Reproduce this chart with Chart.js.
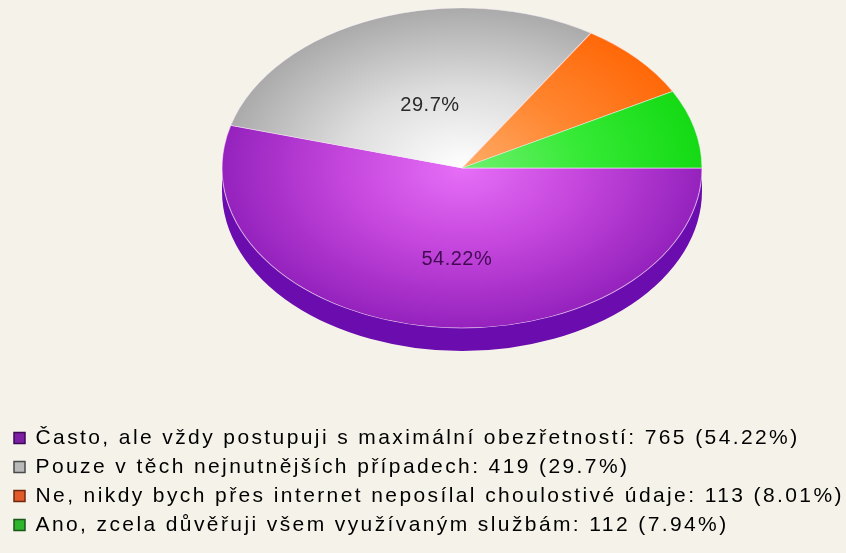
<!DOCTYPE html>
<html>
<head>
<meta charset="utf-8">
<script src="https://cdn.jsdelivr.net/npm/chart.js@4"></script>
<style>
  html, body { margin: 0; padding: 0; background: #f5f3e9; }
  #wrap { width: 846px; height: 553px; }
</style>
</head>
<body>
<div id="wrap"><canvas id="anketa" width="846" height="553"></canvas></div>
<script>
const labels = [
  'Často, ale vždy postupuji s maximální obezřetností',
  'Pouze v těch nejnutnějších případech',
  'Ne, nikdy bych přes internet neposílal choulostivé údaje',
  'Ano, zcela důvěřuji všem využívaným službám'
];
const counts = [765, 419, 113, 112];
const percents = ['54.22', '29.7', '8.01', '7.94'];

// top face gradient stops (centre -> rim), side colour, legend box colours
const faceStops = [
  ['#e66ef7', '#c446dc', '#9522bd'],
  ['#ffffff', '#dddddd', '#aaaaaa'],
  ['#ffac68', '#ff8630', '#ff6808'],
  ['#70f070', '#36ea36', '#14da14']
];
const sideColors = ['#6a0cae', '#8a8a8a', '#c85000', '#10a010'];
const boxFill = ['#7c1fa3', '#b9b9b9', '#e2592a', '#2db52d'];
const boxLine = ['#3c0a55', '#4a4a4a', '#6e2a10', '#1a551a'];

// ellipse the round pie is projected onto
const CX = 462, CY = 168, RX = 240, RY = 160, DEPTH = 23;
const SPACING = '2.4px';

function faceGradient(c) {
  const area = c.chart.chartArea;
  const stops = faceStops[c.dataIndex];
  if (!area) return stops[1];
  const x = (area.left + area.right) / 2;
  const y = (area.top + area.bottom) / 2;
  const r = Math.min(area.right - area.left, area.bottom - area.top) / 2;
  const g = c.chart.ctx.createRadialGradient(x, y, 0, x, y, r);
  g.addColorStop(0, stops[0]);
  g.addColorStop(0.5, stops[1]);
  g.addColorStop(1, stops[2]);
  return g;
}

const tilted = {
  id: 'tilted',
  beforeLayout(chart) { chart.ctx.letterSpacing = SPACING; },
  beforeDraw(chart) { chart.ctx.letterSpacing = SPACING; },
  beforeDatasetsDraw(chart) {
    const ctx = chart.ctx;
    const arcs = chart.getDatasetMeta(0).data;
    // visible rim: lower half of the ellipse
    arcs.forEach((arc, i) => {
      const p = arc.getProps(['startAngle', 'endAngle'], true);
      const two = Math.PI * 2;
      const s = ((p.startAngle % two) + two) % two;
      const e = s + (p.endAngle - p.startAngle);
      const a = Math.max(s, 0), b = Math.min(e, Math.PI);
      if (b <= a) return;
      ctx.save();
      ctx.beginPath();
      ctx.ellipse(CX, CY, RX, RY, 0, a, b, false);
      ctx.ellipse(CX, CY + DEPTH, RX, RY, 0, b, a, true);
      ctx.closePath();
      ctx.fillStyle = sideColors[i];
      ctx.fill();
      ctx.restore();
    });
    const p0 = arcs[0].getProps(['x', 'y', 'outerRadius'], true);
    ctx.save();
    ctx.translate(CX, CY);
    ctx.scale(RX / p0.outerRadius, RY / p0.outerRadius);
    ctx.translate(-p0.x, -p0.y);
  },
  afterDatasetsDraw(chart) {
    const ctx = chart.ctx;
    ctx.restore();
    const arcs = chart.getDatasetMeta(0).data;
    ctx.save();
    ctx.font = '20px "Liberation Sans", Arial, sans-serif';
    ctx.letterSpacing = '0.5px';
    ctx.textAlign = 'center';
    ctx.textBaseline = 'middle';
    arcs.forEach((arc, i) => {
      if (percents[i] < 10) return;
      const p = arc.getProps(['startAngle', 'endAngle'], true);
      const mid = (p.startAngle + p.endAngle) / 2;
      const x = CX + 11 + Math.cos(mid) * RX * 0.5;
      const y = CY + 12 + Math.sin(mid) * RY * 0.5;
      ctx.fillStyle = i === 0 ? 'rgba(45,0,60,0.85)' : '#2a2a2a';
      ctx.fillText(percents[i] + '%', x, y);
    });
    ctx.restore();
  }
};

new Chart(document.getElementById('anketa'), {
  type: 'pie',
  data: {
    labels: labels,
    datasets: [{
      data: counts,
      backgroundColor: faceGradient,
      borderColor: 'rgba(255,240,255,0.55)',
      borderWidth: 1
    }]
  },
  options: {
    responsive: false,
    animation: false,
    rotation: 90,
    layout: { padding: { left: 6, bottom: 7.5 } },
    plugins: {
      tooltip: { enabled: false },
      legend: {
        position: 'bottom',
        align: 'start',
        labels: {
          color: '#1e1e1e',
          font: { family: '"Liberation Sans", Arial, sans-serif', size: 21 },
          boxWidth: 11,
          boxHeight: 11,
          padding: 8,
          generateLabels: () => labels.map((l, i) => ({
            text: l + ': ' + counts[i] + ' (' + percents[i] + '%)',
            fillStyle: boxFill[i],
            strokeStyle: boxLine[i],
            lineWidth: 1.5,
            index: i
          }))
        }
      }
    }
  },
  plugins: [tilted]
});
</script>
</body>
</html>
